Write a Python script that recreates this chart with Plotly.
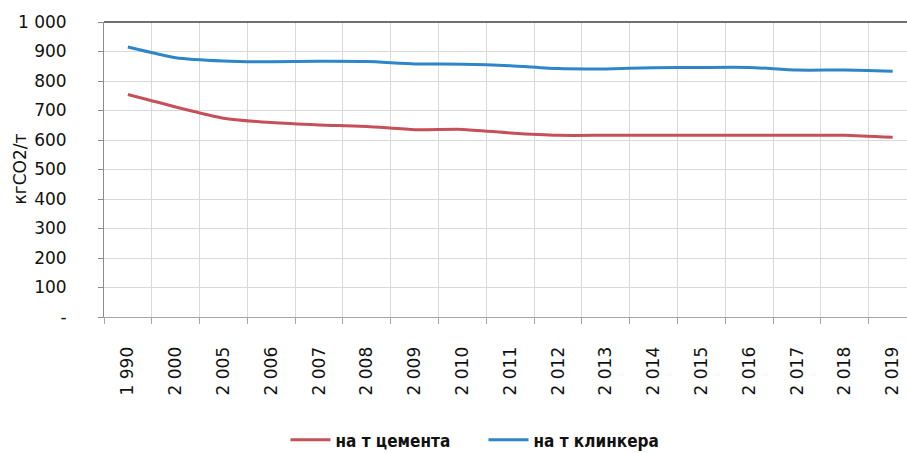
import plotly.graph_objects as go

# Categories and series (кг CO2 на тонну продукции)
years = ["1 990", "2 000", "2 005", "2 006", "2 007", "2 008", "2 009", "2 010",
         "2 011", "2 012", "2 013", "2 014", "2 015", "2 016", "2 017", "2 018", "2 019"]
cement = [754, 712, 674, 659, 651, 646, 635, 636, 624, 616, 616, 616, 616, 616, 616, 616, 609]
clinker = [915, 879, 868, 865, 867, 866, 858, 857, 852, 842, 841, 845, 846, 846, 837, 837, 833]

y_ticks = [0, 100, 200, 300, 400, 500, 600, 700, 800, 900, 1000]
y_labels = ["-", "100", "200", "300", "400", "500", "600", "700", "800", "900", "1 000"]
y_title = "кгCO2/т"

RED = "#C6505A"
BLUE = "#2E86C8"
TICK_FONT = dict(family="DejaVu Sans, Verdana, sans-serif", size=17, color="#111111")

fig = go.Figure()
fig.add_trace(go.Scatter(x=years, y=cement, name="на т цемента", mode="lines",
                         line=dict(color=RED, width=3, shape="spline", smoothing=0.6)))
fig.add_trace(go.Scatter(x=years, y=clinker, name="на т клинкера", mode="lines",
                         line=dict(color=BLUE, width=3, shape="spline", smoothing=0.6)))

fig.update_layout(
    width=907, height=453,
    margin=dict(l=104, r=0, t=22, b=136, autoexpand=False),
    paper_bgcolor="white", plot_bgcolor="white",
    showlegend=True,
    legend=dict(orientation="h", x=0.226, xanchor="left", y=-0.418, yanchor="middle",
                font=dict(family="DejaVu Sans Condensed, DejaVu Sans, sans-serif",
                          size=17, color="#111111", weight="bold"),
                entrywidth=143, itemwidth=40, tracegroupgap=0),
    xaxis=dict(
        type="category", range=[-0.5, 16.3], tickson="boundaries",
        showgrid=True, gridcolor="#D9D9D9", gridwidth=1,
        showline=True, linecolor="#A6A6A6", linewidth=1,
        ticks="outside", ticklen=6, tickcolor="#A6A6A6",
        tickangle=-90, tickfont=TICK_FONT, ticklabelstandoff=22,
        zeroline=False, automargin=False,
    ),
    yaxis=dict(
        range=[0, 1000], tickvals=y_ticks, ticktext=y_labels,
        showgrid=True, gridcolor="#D9D9D9", gridwidth=1,
        showline=True, linecolor="#8C8C8C", linewidth=1,
        ticks="outside", ticklen=5, tickcolor="#8C8C8C",
        tickfont=TICK_FONT, ticklabelstandoff=28,
        zeroline=False, automargin=False,
    ),
)

# rotated y-axis title
fig.add_annotation(text=y_title, xref="paper", yref="paper", x=0, y=0.5,
                   xanchor="center", yanchor="middle", xshift=-85, textangle=-90,
                   showarrow=False,
                   font=dict(family="DejaVu Sans, Verdana, sans-serif", size=17, color="#111111"))

# plot-area top border
fig.add_shape(type="line", xref="paper", yref="paper", x0=0, x1=1, y0=1, y1=1,
              line=dict(color="#404040", width=1.5))

fig.write_html("out.html")
